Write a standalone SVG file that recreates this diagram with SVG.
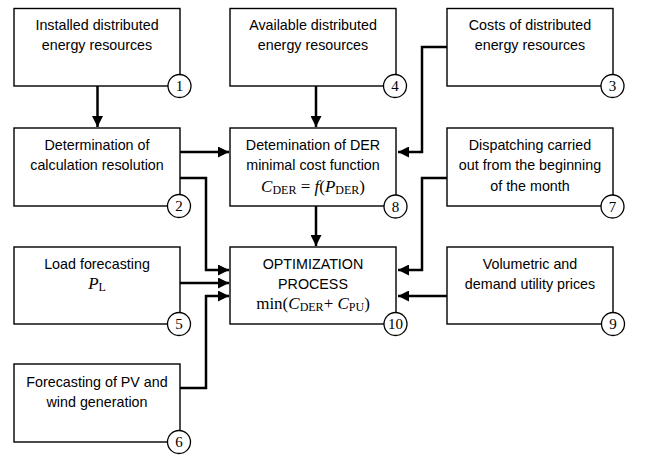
<svg xmlns="http://www.w3.org/2000/svg" width="647" height="455" viewBox="0 0 647 455">
<style>
.box{fill:#fff;stroke:#000;stroke-width:1.4}
.num{fill:#fff;stroke:#000;stroke-width:1.3}
.t{font-family:"Liberation Sans",Arial,sans-serif;font-size:14.3px;text-anchor:middle;fill:#000}
.m{font-family:"Liberation Serif","Times New Roman",serif;font-size:17px;text-anchor:middle;fill:#000}
.n{font-family:"Liberation Serif","Times New Roman",serif;font-size:15px;text-anchor:middle;fill:#000}
.c{fill:none;stroke:#000;stroke-width:2.5}
.s{font-size:12px}
</style>
<defs>
<marker id="ah" markerUnits="userSpaceOnUse" markerWidth="11" markerHeight="11" viewBox="0 0 10 10" refX="10" refY="5" orient="auto">
<path d="M0,0 L10,5 L0,10 z" fill="#000"/>
</marker>
</defs>
<g id="connectors">
<path class="c" d="M97.5,86 V127" marker-end="url(#ah)"/>
<path class="c" d="M316,86 V127" marker-end="url(#ah)"/>
<path class="c" d="M447,47 H422 V152 H398" marker-end="url(#ah)"/>
<path class="c" d="M180,152 H229" marker-end="url(#ah)"/>
<path class="c" d="M180,178 H206 V270 H229" marker-end="url(#ah)"/>
<path class="c" d="M316,206 V246" marker-end="url(#ah)"/>
<path class="c" d="M447,178 H422 V270 H398" marker-end="url(#ah)"/>
<path class="c" d="M180,283 H229" marker-end="url(#ah)"/>
<path class="c" d="M180,388 H206 V296 H229" marker-end="url(#ah)"/>
<path class="c" d="M447,296 H398" marker-end="url(#ah)"/>
</g>
<g id="node1">
<rect class="box" x="14" y="8.5" width="166" height="77.5"/>
<text class="t" x="97" y="30">Installed distributed</text>
<text class="t" x="97" y="50">energy resources</text>
<circle class="num" cx="179.5" cy="86" r="11.5"/>
<text class="n" x="179.5" y="91">1</text>
</g>
<g id="node4">
<rect class="box" x="230" y="8.5" width="166" height="77.5"/>
<text class="t" x="313" y="30">Available distributed</text>
<text class="t" x="313" y="50">energy resources</text>
<circle class="num" cx="395" cy="86" r="11.5"/>
<text class="n" x="395" y="91">4</text>
</g>
<g id="node3">
<rect class="box" x="447" y="8.5" width="166" height="77.5"/>
<text class="t" x="530" y="30">Costs of distributed</text>
<text class="t" x="530" y="50">energy resources</text>
<circle class="num" cx="612.5" cy="86" r="11.5"/>
<text class="n" x="612.5" y="91">3</text>
</g>
<g id="node2">
<rect class="box" x="14" y="128" width="166" height="78"/>
<text class="t" x="97" y="150">Determination of</text>
<text class="t" x="97" y="170">calculation resolution</text>
<circle class="num" cx="179" cy="206" r="11.5"/>
<text class="n" x="179" y="211">2</text>
</g>
<g id="node8">
<rect class="box" x="230" y="128" width="166" height="78"/>
<text class="t" x="313" y="150">Detemination of DER</text>
<text class="t" x="313" y="170">minimal cost function</text>
<text class="m" x="313" y="192"><tspan font-style="italic">C</tspan><tspan class="s" dy="2">DER</tspan><tspan dy="-2"> = </tspan><tspan font-style="italic">f</tspan>(<tspan font-style="italic">P</tspan><tspan class="s" dy="2">DER</tspan><tspan dy="-2">)</tspan></text>
<circle class="num" cx="395.5" cy="206.5" r="11.5"/>
<text class="n" x="395.5" y="211.5">8</text>
</g>
<g id="node7">
<rect class="box" x="447" y="128" width="166" height="78"/>
<text class="t" x="530" y="150">Dispatching carried</text>
<text class="t" x="530" y="170">out from the beginning</text>
<text class="t" x="530" y="191">of the month</text>
<circle class="num" cx="612.5" cy="206.5" r="11.5"/>
<text class="n" x="612.5" y="211.5">7</text>
</g>
<g id="node5">
<rect class="box" x="14" y="247" width="166" height="77"/>
<text class="t" x="97" y="269">Load forecasting</text>
<text class="m" x="97" y="289"><tspan font-style="italic">P</tspan><tspan class="s" dy="2">L</tspan></text>
<circle class="num" cx="179" cy="324" r="11.5"/>
<text class="n" x="179" y="329">5</text>
</g>
<g id="node10">
<rect class="box" x="230" y="247" width="166" height="77"/>
<text class="t" x="313" y="269">OPTIMIZATION</text>
<text class="t" x="313" y="289">PROCESS</text>
<text class="m" x="313" y="309">min(<tspan font-style="italic">C</tspan><tspan class="s" dy="2">DER</tspan><tspan dy="-2">+ </tspan><tspan font-style="italic">C</tspan><tspan class="s" dy="2">PU</tspan><tspan dy="-2">)</tspan></text>
<circle class="num" cx="395.5" cy="324" r="11.5"/>
<text class="n" x="395.5" y="329">10</text>
</g>
<g id="node9">
<rect class="box" x="447" y="247" width="166" height="77"/>
<text class="t" x="530" y="269">Volumetric and</text>
<text class="t" x="530" y="289">demand utility prices</text>
<circle class="num" cx="613" cy="324" r="11.5"/>
<text class="n" x="613" y="329">9</text>
</g>
<g id="node6">
<rect class="box" x="14" y="364" width="166" height="78"/>
<text class="t" x="97" y="387">Forecasting of PV and</text>
<text class="t" x="97" y="407">wind generation</text>
<circle class="num" cx="179" cy="442" r="11.5"/>
<text class="n" x="179" y="447">6</text>
</g>
</svg>
